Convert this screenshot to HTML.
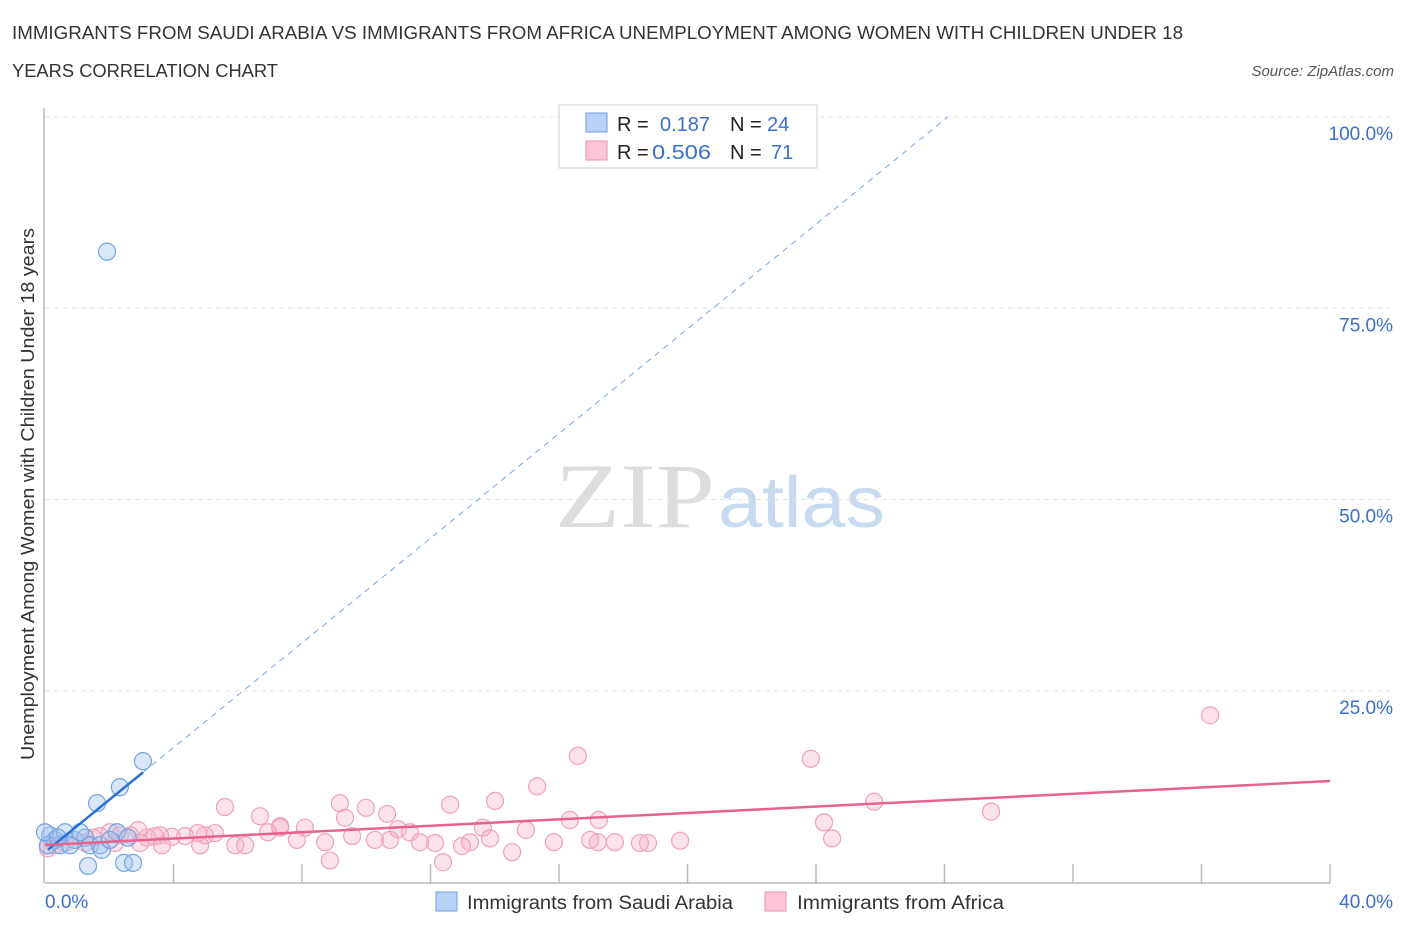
<!DOCTYPE html>
<html><head><meta charset="utf-8"><style>
body{margin:0;background:#fff;font-family:"Liberation Sans",sans-serif;}
</style></head><body>
<svg id="chart" width="1406" height="930" xmlns="http://www.w3.org/2000/svg" font-family="Liberation Sans, sans-serif">
<text x="12" y="39" font-size="18" fill="#333" textLength="1171" lengthAdjust="spacingAndGlyphs">IMMIGRANTS FROM SAUDI ARABIA VS IMMIGRANTS FROM AFRICA UNEMPLOYMENT AMONG WOMEN WITH CHILDREN UNDER 18</text>
<text x="12" y="77" font-size="18" fill="#333" textLength="266" lengthAdjust="spacingAndGlyphs">YEARS CORRELATION CHART</text>
<text x="1394" y="76" font-size="15" fill="#555" font-style="italic" text-anchor="end">Source: ZipAtlas.com</text>
<text x="555" y="527" font-size="92" fill="#ddd" font-family="Liberation Serif, serif" textLength="160" lengthAdjust="spacingAndGlyphs">ZIP</text>
<text x="718" y="527" font-size="72" fill="#c8daf0" textLength="167" lengthAdjust="spacingAndGlyphs">atlas</text>
<text transform="translate(34,494) rotate(-90)" font-size="18" fill="#333" text-anchor="middle" textLength="532" lengthAdjust="spacingAndGlyphs">Unemployment Among Women with Children Under 18 years</text>
<g id="grid"></g><g id="axes"></g><g id="marks"></g>
<g>
<rect x="559" y="105" width="258" height="63" fill="#fff" stroke="#ccc"/>
<rect x="586" y="113" width="21" height="19" fill="#b8d3f7" stroke="#6fa0e0"/>
<rect x="586" y="141" width="21" height="19" fill="#fbc5d5" stroke="#ec8fab"/>
<text x="617" y="131" font-size="20" fill="#222">R = </text><text x="660" y="131" font-size="20" fill="#3a6fd0">0.187</text>
<text x="730" y="131" font-size="20" fill="#222">N = </text><text x="767" y="131" font-size="20" fill="#3a6fd0">24</text>
<text x="617" y="159" font-size="20" fill="#222">R = </text><text x="652" y="159" font-size="20" fill="#3a6fd0" textLength="59" lengthAdjust="spacingAndGlyphs">0.506</text>
<text x="730" y="159" font-size="20" fill="#222">N = </text><text x="771" y="159" font-size="20" fill="#3a6fd0">71</text>
</g>
<g>
<rect x="436" y="892" width="21" height="19" fill="#b8d3f7" stroke="#6fa0e0"/>
<text x="467" y="909" font-size="19" fill="#333" textLength="266" lengthAdjust="spacingAndGlyphs">Immigrants from Saudi Arabia</text>
<rect x="765" y="892" width="21" height="19" fill="#fbc5d5" stroke="#ec8fab"/>
<text x="797" y="909" font-size="19" fill="#333" textLength="207" lengthAdjust="spacingAndGlyphs">Immigrants from Africa</text>
</g>
</svg>
<script>
const blueX=[1.93,3.05,2.33,1.62,0.16,0.31,0.62,0.93,1.25,1.40,1.71,1.77,2.24,2.58,1.34,2.46,2.74,0.47,0.78,0.09,1.09,2.02,0,0.40];
const blueY=[82.4,15.8,12.4,10.3,6.1,5.5,6.5,5.5,5.8,4.8,4.8,4.2,6.5,5.8,2.1,2.5,2.5,4.8,4.8,4.8,6.5,5.5,6.5,5.8];
const pinkX=[36.27,23.84,16.59,15.32,25.81,29.45,14.01,12.61,9.18,5.60,9.99,10.65,6.69,9.34,24.25,7.32,8.09,10.99,11.36,13.63,17.24,16.34,14.97,24.50,17.74,18.77,19.77,17.21,15.84,13.85,13.23,12.14,11.67,10.74,10.27,9.56,8.72,7.84,7.32,6.23,5.92,5.29,4.98,4.76,4.36,3.95,3.58,3.42,3.18,2.90,2.65,2.33,2.02,1.71,1.49,1.25,0.93,0.62,0.31,0.09,8.87,12.39,14.54,12.98,16.97,18.52,6.94,4.83,3.64,2.96,2.18];
const pinkY=[21.8,16.1,16.5,12.5,10.5,9.2,10.6,10.1,10.3,9.8,9.7,8.9,8.6,8.4,7.8,7.3,7.1,6.9,6.5,7.1,8.1,8.1,6.8,5.7,5.2,5.1,5.4,5.2,5.2,5.7,5.2,5.1,5.2,5.5,5.5,6.0,5.2,5.5,7.1,4.8,4.8,6.4,6.1,6.4,6.0,5.9,6.1,6.0,5.8,6.8,6.1,6.1,6.5,6.0,5.8,5.1,5.5,5.1,4.8,4.4,2.8,2.6,3.9,4.7,5.5,5.1,6.5,4.8,4.8,5.1,5.1];
const xTicks=[0,4,8,12,16,20,24,28,32,36,40];
const yTicks=[25,50,75,100];
const yTickLabels=["25.0%","50.0%","75.0%","100.0%"];
const blueTrend=[3.9,3.42];
const pinkTrend=[4.84,0.209];
const NS='http://www.w3.org/2000/svg';
const X=v=>45+v*32.125, Y=v=>882-v*7.65;
function mk(tag,attrs,parent){const e=document.createElementNS(NS,tag);for(const k in attrs)e.setAttribute(k,attrs[k]);document.getElementById(parent).appendChild(e);return e;}
yTicks.forEach((t,i)=>{
 const g=mk('line',{x1:45,x2:1390,y1:Y(t),y2:Y(t),stroke:'#e4e4e4','stroke-dasharray':'5,4'},'grid');
 
 
 const l=mk('text',{x:1393,y:Y(t)+23,'font-size':19,fill:'#3a6fd0','text-anchor':'end'},'axes');
 l.textContent=yTickLabels[i];
 
 
});
const ax=mk('line',{x1:45,x2:1330,y1:883,y2:883,stroke:'#bbb','stroke-width':1.5},'axes');


const ay=mk('line',{x1:44,x2:44,y1:108,y2:883,stroke:'#bbb','stroke-width':1.5},'axes');


xTicks.forEach(t=>{if(t===0)return;const e=mk('line',{x1:X(t),x2:X(t),y1:864,y2:883,stroke:'#bbb','stroke-width':1.5},'axes');
 
 });
const x0=mk('text',{x:45,y:908,'font-size':19,fill:'#3a6fd0'},'axes');x0.textContent='0.0%';


const x1=mk('text',{x:1393,y:908,'font-size':19,fill:'#3a6fd0','text-anchor':'end'},'axes');x1.textContent='40.0%';


pinkX.forEach((v,i)=>{const c=mk('circle',{cx:X(v),cy:Y(pinkY[i]),r:8.5,fill:'rgba(248,180,202,0.38)',stroke:'#eea2b9','stroke-width':1.2},'marks');
 
 });
blueX.forEach((v,i)=>{const c=mk('circle',{cx:X(v),cy:Y(blueY[i]),r:8.5,fill:'rgba(160,196,240,0.4)',stroke:'#74a4e0','stroke-width':1.2},'marks');
 
 });
const bEnd=(100-blueTrend[0])/blueTrend[1];
const bd=mk('line',{x1:X(3.05),y1:Y(blueTrend[0]+blueTrend[1]*3.05),x2:X(bEnd),y2:Y(100),stroke:'#7aa6e0','stroke-width':1,'stroke-dasharray':'6,5'},'marks');


const bl=mk('line',{x1:X(0.1),y1:Y(blueTrend[0]+blueTrend[1]*0.1),x2:X(3.05),y2:Y(blueTrend[0]+blueTrend[1]*3.05),stroke:'#2a6fd6','stroke-width':2.5},'marks');


const pl=mk('line',{x1:X(0),y1:Y(pinkTrend[0]),x2:X(40),y2:Y(pinkTrend[0]+pinkTrend[1]*40),stroke:'#e8628e','stroke-width':2.5},'marks');


</script>
</body></html>
